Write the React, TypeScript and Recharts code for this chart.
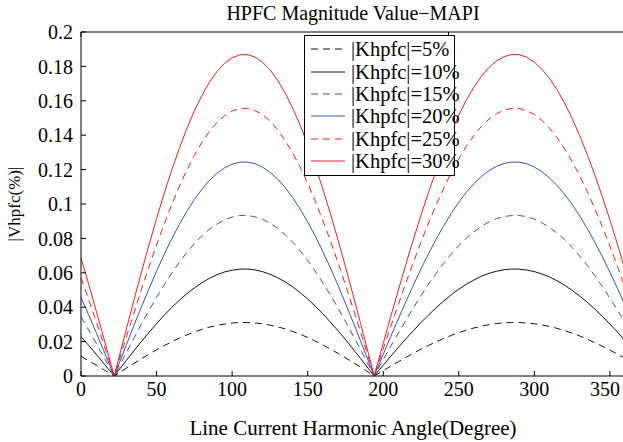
import { CartesianGrid, Legend, Line, LineChart, XAxis, YAxis } from "recharts";

// line current harmonic angle (degree)
const angles = [
  0, 5, 10, 15, 20, 22, 25, 30, 35, 40, 45, 50, 55, 60, 65, 70, 75, 80, 85, 90,
  95, 100, 105, 110, 115, 120, 125, 130, 135, 140, 145, 150, 155, 160, 165,
  170, 175, 180, 185, 190, 194, 195, 200, 205, 210, 215, 220, 225, 230, 235,
  240, 245, 250, 255, 260, 265, 270, 275, 280, 285, 290, 295, 300, 305, 310,
  315, 320, 325, 330, 335, 340, 345, 350, 355, 360,
];

// |Vhpfc|, one list per |Khpfc|
const k5 = [
  0.0114, 0.0089, 0.0063, 0.0037, 0.0011, 0, 0.0017, 0.0045, 0.0073, 0.01,
  0.0127, 0.0152, 0.0176, 0.0199, 0.022, 0.0239, 0.0256, 0.0271, 0.0284,
  0.0294, 0.0302, 0.0308, 0.0311, 0.0311, 0.0308, 0.0304, 0.0296, 0.0286,
  0.0274, 0.0259, 0.0243, 0.0224, 0.0203, 0.0181, 0.0157, 0.0132, 0.0106,
  0.0079, 0.0051, 0.0023, 0, 0.0005, 0.0031, 0.0057, 0.0083, 0.0108, 0.0132,
  0.0156, 0.0178, 0.0199, 0.0218, 0.0236, 0.0252, 0.0267, 0.0279, 0.029,
  0.0298, 0.0305, 0.0309, 0.0311, 0.0311, 0.0308, 0.0304, 0.0297, 0.0288,
  0.0277, 0.0264, 0.0249, 0.0233, 0.0214, 0.0194, 0.0173, 0.0151, 0.0127,
  0.0103,
];
const k10 = [
  0.0228, 0.0179, 0.0127, 0.0074, 0.0021, 0, 0.0034, 0.0091, 0.0146, 0.0201,
  0.0254, 0.0304, 0.0353, 0.0398, 0.044, 0.0478, 0.0512, 0.0542, 0.0568,
  0.0589, 0.0605, 0.0615, 0.0621, 0.0622, 0.0617, 0.0607, 0.0592, 0.0572,
  0.0548, 0.0519, 0.0485, 0.0448, 0.0406, 0.0362, 0.0314, 0.0264, 0.0212,
  0.0157, 0.0102, 0.0045, 0, 0.0011, 0.0063, 0.0115, 0.0166, 0.0216, 0.0264,
  0.0311, 0.0355, 0.0397, 0.0436, 0.0472, 0.0505, 0.0533, 0.0558, 0.058,
  0.0597, 0.0609, 0.0618, 0.0622, 0.0621, 0.0616, 0.0607, 0.0593, 0.0576,
  0.0554, 0.0528, 0.0498, 0.0465, 0.0429, 0.0389, 0.0347, 0.0302, 0.0255,
  0.0206,
];
const k15 = [
  0.0343, 0.0268, 0.0191, 0.0111, 0.0032, 0, 0.0051, 0.0136, 0.022, 0.0302,
  0.0381, 0.0457, 0.0529, 0.0598, 0.066, 0.0718, 0.0769, 0.0815, 0.0853,
  0.0884, 0.0908, 0.0924, 0.0933, 0.0933, 0.0926, 0.0912, 0.0889, 0.086,
  0.0823, 0.0779, 0.0729, 0.0672, 0.061, 0.0543, 0.0472, 0.0396, 0.0318,
  0.0236, 0.0153, 0.0068, 0, 0.0016, 0.0095, 0.0173, 0.0249, 0.0324, 0.0397,
  0.0467, 0.0534, 0.0596, 0.0655, 0.0709, 0.0758, 0.0801, 0.0838, 0.087,
  0.0896, 0.0915, 0.0927, 0.0933, 0.0933, 0.0926, 0.0912, 0.0891, 0.0864,
  0.0831, 0.0793, 0.0748, 0.0698, 0.0644, 0.0584, 0.052, 0.0453, 0.0383,
  0.0309,
];
const k20 = [
  0.0457, 0.0357, 0.0254, 0.0148, 0.0042, 0, 0.0068, 0.0181, 0.0293, 0.0402,
  0.0508, 0.0609, 0.0706, 0.0797, 0.088, 0.0957, 0.1026, 0.1086, 0.1137,
  0.1178, 0.121, 0.1232, 0.1243, 0.1244, 0.1235, 0.1215, 0.1185, 0.1146,
  0.1097, 0.1038, 0.0971, 0.0896, 0.0814, 0.0724, 0.0629, 0.0529, 0.0423,
  0.0315, 0.0204, 0.0091, 0, 0.0021, 0.0126, 0.023, 0.0332, 0.0432, 0.0529,
  0.0623, 0.0711, 0.0795, 0.0873, 0.0945, 0.101, 0.1068, 0.1118, 0.116,
  0.1194, 0.1219, 0.1236, 0.1244, 0.1243, 0.1234, 0.1215, 0.1188, 0.1152,
  0.1108, 0.1057, 0.0997, 0.0931, 0.0858, 0.0778, 0.0694, 0.0604, 0.051,
  0.0412,
];
const k25 = [
  0.0571, 0.0447, 0.0318, 0.0185, 0.0053, 0, 0.0085, 0.0227, 0.0366, 0.0503,
  0.0635, 0.0762, 0.0883, 0.0996, 0.1101, 0.1197, 0.1283, 0.1358, 0.1422,
  0.1474, 0.1513, 0.154, 0.1555, 0.1556, 0.1544, 0.152, 0.1483, 0.1433,
  0.1371, 0.1298, 0.1215, 0.1121, 0.1017, 0.0906, 0.0787, 0.0661, 0.053,
  0.0394, 0.0255, 0.0114, 0, 0.0026, 0.0158, 0.0288, 0.0416, 0.0541, 0.0662,
  0.0779, 0.089, 0.0994, 0.1092, 0.1182, 0.1263, 0.1335, 0.1398, 0.1451,
  0.1493, 0.1525, 0.1546, 0.1556, 0.1555, 0.1543, 0.152, 0.1486, 0.1441,
  0.1386, 0.1321, 0.1247, 0.1164, 0.1073, 0.0973, 0.0868, 0.0756, 0.0638,
  0.0516,
];
const k30 = [
  0.0686, 0.0537, 0.0381, 0.0223, 0.0064, 0, 0.0102, 0.0272, 0.044, 0.0604,
  0.0763, 0.0915, 0.106, 0.1196, 0.1322, 0.1437, 0.1541, 0.1631, 0.1708,
  0.177, 0.1818, 0.185, 0.1867, 0.1869, 0.1855, 0.1825, 0.1781, 0.1721,
  0.1647, 0.1559, 0.1459, 0.1346, 0.1222, 0.1088, 0.0945, 0.0794, 0.0636,
  0.0473, 0.0306, 0.0137, 0, 0.0032, 0.0189, 0.0346, 0.0499, 0.0649, 0.0795,
  0.0935, 0.1068, 0.1194, 0.1311, 0.1419, 0.1517, 0.1604, 0.1679, 0.1742,
  0.1794, 0.1832, 0.1857, 0.1869, 0.1868, 0.1853, 0.1825, 0.1784, 0.1731,
  0.1665, 0.1587, 0.1498, 0.1398, 0.1288, 0.1169, 0.1042, 0.0908, 0.0766,
  0.062,
];

const xTicks = [0, 50, 100, 150, 200, 250, 300, 350];
const yTicks = [0, 0.02, 0.04, 0.06, 0.08, 0.1, 0.12, 0.14, 0.16, 0.18, 0.2];

const seriesNames = [
  "|Khpfc|=5%",
  "|Khpfc|=10%",
  "|Khpfc|=15%",
  "|Khpfc|=20%",
  "|Khpfc|=25%",
  "|Khpfc|=30%",
];
const seriesValues = [k5, k10, k15, k20, k25, k30];

const RED = "#f01c1c";
const BLUE = "#3552b8";
const BLACK = "#111";
const FONT = "Liberation Serif";

const SERIES = [
  { key: "k5", color: BLACK, dash: "7 5" },
  { key: "k10", color: BLACK, dash: undefined },
  { key: "k15", color: BLUE, dash: "7 5" },
  { key: "k20", color: BLUE, dash: undefined },
  { key: "k25", color: RED, dash: "7 5" },
  { key: "k30", color: RED, dash: undefined },
];

const data = angles.map((x, i) => {
  const row: Record<string, number> = { x };
  SERIES.forEach((s, j) => {
    row[s.key] = seriesValues[j][i];
  });
  return row;
});

const tickStyle = { fontSize: 20, fontFamily: FONT, fill: "#000" };

// bottom tick label; the last one is nudged so it stays inside the picture
const XTick = ({ x, y, payload }: any) => {
  const shift = payload.value === 350 ? -5 : 0;
  return (
    <text
      x={x + shift}
      y={y}
      dy="0.71em"
      textAnchor="middle"
      fontSize={20}
      fontFamily={FONT}
      fill="#000"
    >
      {payload.value}
    </text>
  );
};

const LegendBox = () => (
  <div
    style={{
      width: 149,
      height: 137,
      border: "1px solid #000",
      background: "#fff",
      fontFamily: FONT,
      fontSize: 20.5,
      color: "#000",
      paddingTop: 2,
      boxSizing: "content-box",
      overflow: "visible",
      whiteSpace: "nowrap",
    }}
  >
    {SERIES.map((s, i) => (
      <div
        key={s.key}
        style={{ height: 22.4, display: "flex", alignItems: "center" }}
      >
        <svg width={46} height={10} style={{ flex: "none" }}>
          <line
            x1={6}
            x2={40}
            y1={5}
            y2={5}
            stroke={s.color}
            strokeWidth={1}
            strokeDasharray={s.dash}
          />
        </svg>
        <span style={{ lineHeight: "22px" }}>{seriesNames[i]}</span>
      </div>
    ))}
  </div>
);

export default function App() {
  return (
    <div
      style={{
        position: "absolute",
        left: 0,
        top: 0,
        width: 623,
        height: 442,
        overflow: "hidden",
        background: "#fff",
      }}
    >
      <LineChart
        width={640}
        height={442}
        data={data}
        margin={{ top: 31, right: 14, bottom: 36, left: 5 }}
      >
        <CartesianGrid stroke="none" />
        <XAxis
          dataKey="x"
          type="number"
          domain={[0, 360]}
          ticks={xTicks}
          height={30}
          stroke="#000"
          tickSize={-5}
          tickMargin={11}
          tick={<XTick />}
          label={{
            value: "Line Current Harmonic Angle(Degree)",
            position: "bottom",
            offset: 14,
            fontSize: 21,
            fontFamily: FONT,
            fill: "#000",
          }}
        />
        <XAxis
          xAxisId="top"
          orientation="top"
          type="number"
          domain={[0, 360]}
          ticks={xTicks}
          height={1}
          stroke="#000"
          tickSize={-5}
          tickFormatter={() => ""}
          label={{
            value: "HPFC Magnitude Value\u2212MAPI",
            position: "top",
            offset: 11,
            fontSize: 20,
            fontFamily: FONT,
            fill: "#000",
          }}
        />
        <YAxis
          type="number"
          domain={[0, 0.2]}
          ticks={yTicks}
          width={76}
          stroke="#000"
          tickSize={-5}
          tickMargin={13}
          tick={tickStyle}
          tickFormatter={(v) => String(v)}
          label={{
            value: "|Vhpfc(%)|",
            angle: -90,
            position: "insideLeft",
            offset: 9,
            fontSize: 17,
            fontFamily: FONT,
            fill: "#000",
            style: { textAnchor: "middle" },
          }}
        />
        <YAxis
          yAxisId="right"
          orientation="right"
          type="number"
          domain={[0, 0.2]}
          ticks={yTicks}
          width={1}
          stroke="#000"
          tickSize={-5}
          tickFormatter={() => ""}
        />
        <Legend
          layout="vertical"
          align="center"
          verticalAlign="middle"
          wrapperStyle={{ left: 304, top: 35, width: "auto", height: "auto" }}
          content={() => <LegendBox />}
        />
        {SERIES.map((s, i) => (
          <Line
            key={s.key}
            dataKey={s.key}
            name={seriesNames[i]}
            type="linear"
            stroke={s.color}
            strokeWidth={1}
            strokeDasharray={s.dash}
            dot={false}
            activeDot={false}
            isAnimationActive={false}
          />
        ))}
      </LineChart>
    </div>
  );
}
